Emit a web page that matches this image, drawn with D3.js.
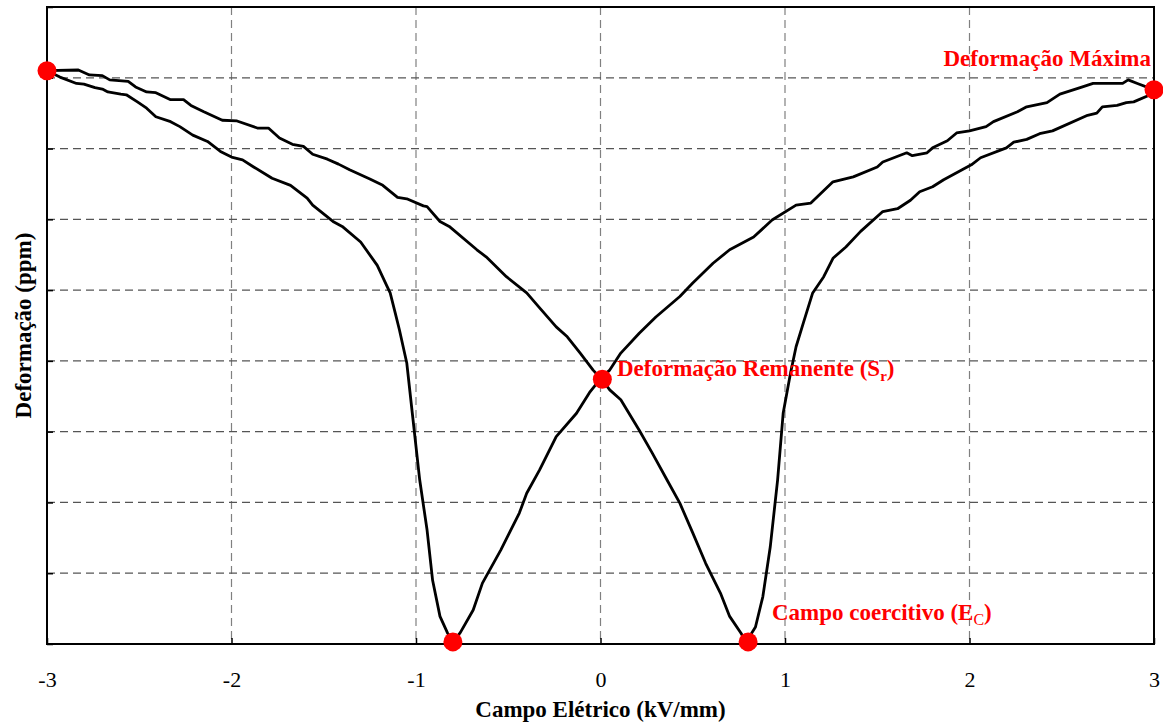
<!DOCTYPE html>
<html>
<head>
<meta charset="utf-8">
<script src="https://cdn.jsdelivr.net/npm/d3@7"></script>
<style>
  html, body { margin: 0; padding: 0; background: #fff; }
  svg { display: block; }
  text { font-family: "Liberation Serif", "Times New Roman", serif; }
</style>
</head>
<body>
<svg id="chart" width="1163" height="725"></svg>
<script>
// ---- Data (Campo Elétrico kV/mm vs Deformação, arbitrary grid units) ----
const xTicks = [-3, -2, -1, 0, 1, 2, 3];
const yTicks = [0, 1, 2, 3, 4, 5, 6, 7, 8, 9];

// Branch 1: from -3 down the steep lower-left curve to -Ec, up through Sr, to +3 (upper right)
const branch1E = [-3.00,-2.93,-2.84,-2.80,-2.74,-2.70,-2.67,-2.60,-2.57,-2.51,-2.46,-2.41,-2.33,-2.28,-2.21,-2.13,-2.06,-2.00,-1.94,-1.88,-1.78,-1.68,-1.59,-1.56,-1.45,-1.40,-1.30,-1.21,-1.16,-1.14,-1.11,-1.09,-1.05,-1.02,-0.98,-0.94,-0.91,-0.87,-0.83,-0.80,
  -0.76,-0.69,-0.64,-0.54,-0.44,-0.40,-0.33,-0.24,-0.13,-0.06,0.01,0.05,0.11,0.21,0.30,0.43,0.50,0.61,0.70,0.83,0.93,1.06,1.14,1.26,1.37,1.50,1.53,1.66,1.69,1.77,1.80,1.88,1.93,2.00,2.09,2.13,2.26,2.31,2.42,2.49,2.60,2.67,2.83,2.86,2.91,2.98,3.00];
const branch1S = [8.10,8.01,7.92,7.91,7.86,7.84,7.80,7.77,7.76,7.66,7.57,7.45,7.38,7.31,7.19,7.10,6.96,6.88,6.84,6.74,6.58,6.48,6.30,6.20,5.97,5.90,5.68,5.35,5.07,4.96,4.65,4.44,3.97,3.26,2.32,1.61,0.90,0.39,0.16,0.03,
  0.16,0.48,0.86,1.33,1.85,2.13,2.46,2.93,3.26,3.55,3.78,3.87,4.11,4.39,4.62,4.91,5.10,5.38,5.57,5.75,5.99,6.20,6.23,6.53,6.60,6.74,6.81,6.94,6.90,6.94,7.01,7.11,7.22,7.25,7.31,7.38,7.52,7.59,7.65,7.77,7.86,7.92,7.92,7.97,7.92,7.85,7.83];

// Branch 2: from -3 along the upper-left curve through Sr, down to +Ec, steep up to +3
const branch2E = [-3.00,-2.83,-2.77,-2.70,-2.66,-2.56,-2.52,-2.46,-2.41,-2.33,-2.26,-2.22,-2.15,-2.05,-1.97,-1.86,-1.80,-1.74,-1.67,-1.61,-1.56,-1.48,-1.42,-1.36,-1.25,-1.18,-1.10,-1.05,-0.96,-0.94,-0.87,-0.82,-0.67,-0.62,-0.51,-0.40,-0.33,-0.24,-0.18,-0.11,-0.04,0.01,
  0.05,0.11,0.21,0.28,0.36,0.43,0.50,0.57,0.65,0.70,0.76,0.79,0.84,0.88,0.92,0.96,0.99,1.03,1.06,1.10,1.15,1.21,1.26,1.33,1.41,1.53,1.61,1.68,1.73,1.80,1.86,1.96,2.01,2.06,2.20,2.24,2.31,2.38,2.45,2.64,2.69,2.72,2.80,2.85,2.89,2.98,3.00];
const branch2S = [8.10,8.11,8.04,8.03,7.97,7.95,7.87,7.80,7.79,7.69,7.69,7.61,7.52,7.40,7.39,7.29,7.29,7.15,7.06,7.03,6.92,6.85,6.78,6.70,6.57,6.48,6.31,6.29,6.19,6.18,5.97,5.90,5.57,5.47,5.19,4.96,4.75,4.48,4.34,4.11,3.87,3.73,
  3.59,3.45,3.02,2.70,2.32,1.99,1.57,1.14,0.72,0.39,0.16,0.03,0.24,0.67,1.37,2.32,3.26,3.83,4.20,4.54,4.96,5.19,5.45,5.61,5.83,6.11,6.15,6.27,6.39,6.46,6.56,6.70,6.77,6.87,7.01,7.09,7.13,7.21,7.25,7.47,7.50,7.59,7.61,7.65,7.66,7.76,7.83];

// Highlighted points
const markerE = [-3.00, 3.00, 0.01, -0.80, 0.80];
const markerS = [8.10, 7.83, 3.74, 0.03, 0.03];

// ---- Chart ----
const W = 1163, H = 725;
const m = { left: 47, top: 7, right: 9, bottom: 81 };
const svg = d3.select("#chart");

const x = d3.scaleLinear().domain([-3, 3]).range([m.left, W - m.right]);
const y = d3.scaleLinear().domain([0, 9]).range([H - m.bottom, m.top]);

// gridlines
const grid = svg.append("g");
grid.selectAll("line.v").data(xTicks.slice(1, -1)).join("line")
  .attr("x1", d => x(d)).attr("x2", d => x(d))
  .attr("y1", y(9)).attr("y2", y(0))
  .attr("stroke", "#808080").attr("stroke-width", 1.2).attr("stroke-dasharray", "8,5");
grid.selectAll("line.h").data(yTicks.slice(1, -1)).join("line")
  .attr("x1", x(-3)).attr("x2", x(3))
  .attr("y1", d => y(d)).attr("y2", d => y(d))
  .attr("stroke", "#555").attr("stroke-width", 1.2).attr("stroke-dasharray", "8,5");

// axes
const xAxis = svg.append("g").attr("transform", `translate(0,${y(0)})`)
  .call(d3.axisBottom(x).tickValues(xTicks).tickSize(-6).tickSizeOuter(0).tickFormat(d3.format("d")));
xAxis.select(".domain").remove();
xAxis.selectAll("line").attr("stroke", "#000").attr("stroke-width", 1.5);
xAxis.selectAll("text").attr("y", 43).attr("dy", 0)
  .style("font-family", "'Liberation Serif','Times New Roman',serif")
  .style("font-size", "22px").attr("fill", "#000")
  .text(d => d < 0 ? "-" + Math.abs(d) : d);

const yAxis = svg.append("g").attr("transform", `translate(${x(-3)},0)`)
  .call(d3.axisLeft(y).tickValues(yTicks).tickSize(-6).tickSizeOuter(0).tickFormat(""));
yAxis.select(".domain").remove();
yAxis.selectAll("line").attr("stroke", "#000").attr("stroke-width", 1.5);

// frame
svg.append("rect")
  .attr("x", x(-3)).attr("y", y(9))
  .attr("width", x(3) - x(-3)).attr("height", y(0) - y(9))
  .attr("fill", "none").attr("stroke", "#000").attr("stroke-width", 2);

// curves
const line = d3.line().x(d => x(d[0])).y(d => y(d[1]));
const b1 = branch1E.map((e, i) => [e, branch1S[i]]);
const b2 = branch2E.map((e, i) => [e, branch2S[i]]);
svg.selectAll("path.curve").data([b1, b2]).join("path")
  .attr("class", "curve")
  .attr("d", line)
  .attr("fill", "none").attr("stroke", "#000").attr("stroke-width", 2.8)
  .attr("stroke-linejoin", "round");

// markers
svg.selectAll("circle.mk").data(markerE.map((e, i) => [e, markerS[i]])).join("circle")
  .attr("class", "mk")
  .attr("cx", d => x(d[0])).attr("cy", d => y(d[1])).attr("r", 9.5)
  .attr("fill", "#ff0000");

// axis titles
svg.append("text")
  .attr("x", (x(-3) + x(3)) / 2).attr("y", 717)
  .attr("text-anchor", "middle")
  .style("font-size", "23px").style("font-weight", "bold")
  .text("Campo Elétrico (kV/mm)");

svg.append("text")
  .attr("transform", `translate(31,${(y(0) + y(9)) / 2}) rotate(-90)`)
  .attr("text-anchor", "middle")
  .style("font-size", "23px").style("font-weight", "bold")
  .text("Deformação (ppm)");

// annotations
const red = "#ff0000";
svg.append("text")
  .attr("x", 1151).attr("y", 66)
  .attr("text-anchor", "end").attr("fill", red)
  .style("font-size", "23px").style("font-weight", "bold")
  .text("Deformação Máxima");

const t2 = svg.append("text")
  .attr("x", 617).attr("y", 376).attr("fill", red)
  .style("font-size", "23px").style("font-weight", "bold");
t2.append("tspan").text("Deformação Remanente (S");
t2.append("tspan").attr("dy", 5).style("font-size", "15px").text("r");
t2.append("tspan").attr("dy", -5).text(")");

const t3 = svg.append("text")
  .attr("x", 772).attr("y", 620).attr("fill", red)
  .style("font-size", "23px").style("font-weight", "bold");
t3.append("tspan").text("Campo coercitivo (E");
t3.append("tspan").attr("dy", 5).style("font-size", "16px").style("font-weight", "normal").text("C");
t3.append("tspan").attr("dy", -5).text(")");
</script>
</body>
</html>
